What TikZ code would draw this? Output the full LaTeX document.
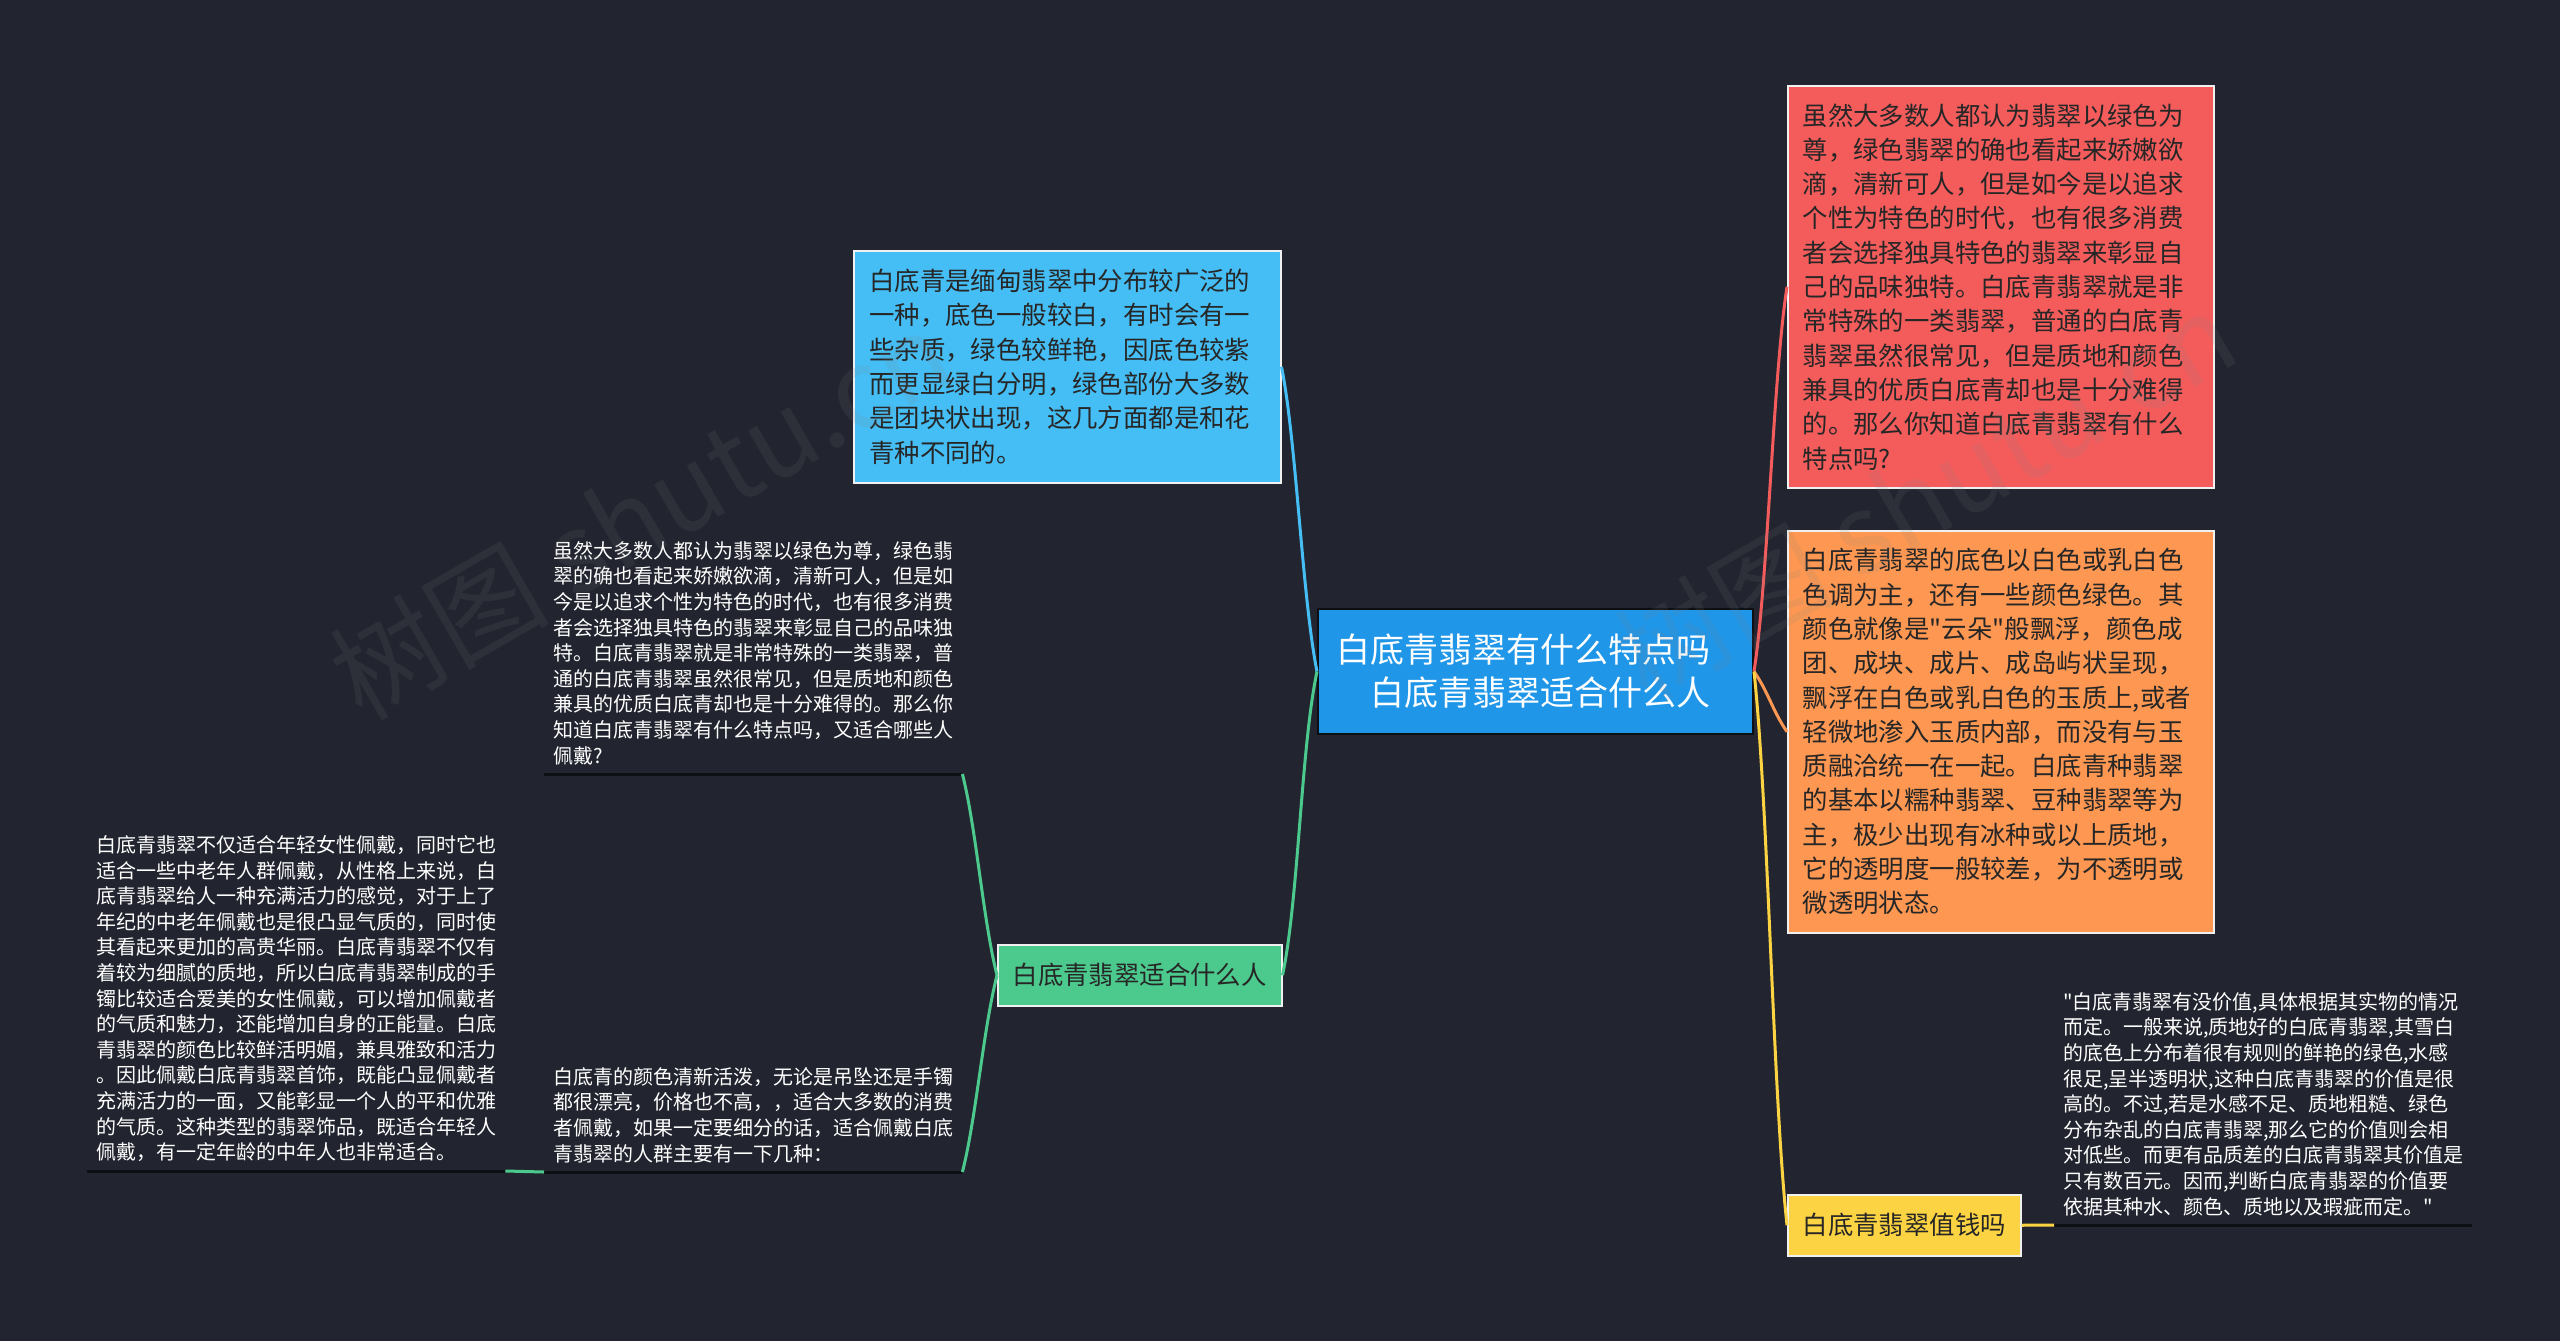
\documentclass[tikz,border=0pt]{standalone}
\usepackage{fontspec}
\setmainfont{Noto Sans CJK SC}[Ligatures=TeXOff]
\usepackage{xcolor}
\usepackage{tikz}
\definecolor{jadenight}{RGB}{34,37,47}
\definecolor{jadecentre}{RGB}{31,150,232}
\definecolor{jadesky}{RGB}{69,190,245}
\definecolor{jadered}{RGB}{244,92,92}
\definecolor{jadeorange}{RGB}{253,151,82}
\definecolor{jadegreen}{RGB}{76,201,141}
\definecolor{jadeyellow}{RGB}{252,211,66}
\definecolor{jadeink}{RGB}{38,38,38}
\definecolor{jadeline}{RGB}{14,15,19}
\definecolor{jadewater}{RGB}{128,128,128}
\tikzset{
  topicbox/.style={draw=white!88!gray,line width=1.5pt,anchor=north west,align=left,
    text=jadeink,inner xsep=15pt,font=\fontsize{25.4}{34.3}\selectfont},
  notetext/.style={anchor=south west,align=left,text=white,text width=400pt,
    inner xsep=9pt,inner ysep=9pt,font=\fontsize{20}{25.6}\selectfont},
  noteline/.style={jadeline,line width=3pt},
  branchline/.style={line width=3pt},
  watermark/.style={rotate=30,text=jadewater,opacity=0.12,font=\fontsize{110}{110}\selectfont}
}

\begin{document}
\begin{tikzpicture}[x=1pt,y=-1pt]
\useasboundingbox (0,0) rectangle (2560,1341);
\fill[jadenight] (0,0) rectangle (2560,1341);
% Sujet central
\node[draw=jadeline,fill=jadecentre,line width=2pt,anchor=north west,align=left,text=white,
  minimum width=435pt,minimum height=125pt,font=\fontsize{34}{43}\selectfont] (centre) at (1317,608)
  {白底青翡翠有什么特点吗\hspace*{24pt}\\\hspace*{34pt}白底青翡翠适合什么人};
% Branches principales
\node[topicbox,fill=jadesky,text width=396pt,minimum width=427pt,minimum height=232pt] (origine) at (853,250)
  {白底青是缅甸翡翠中分布较广泛的\\一种，底色一般较白，有时会有一\\些杂质，绿色较鲜艳，因底色较紫\\而更显绿白分明，绿色部份大多数\\是团块状出现，这几方面都是和花\\青种不同的。};
\node[topicbox,fill=jadered,text width=396pt,minimum width=426pt,minimum height=402pt] (apercu) at (1787,85)
  {虽然大多数人都认为翡翠以绿色为\\尊，绿色翡翠的确也看起来娇嫩欲\\滴，清新可人，但是如今是以追求\\个性为特色的时代，也有很多消费\\者会选择独具特色的翡翠来彰显自\\己的品味独特。白底青翡翠就是非\\常特殊的一类翡翠，普通的白底青\\翡翠虽然很常见，但是质地和颜色\\兼具的优质白底青却也是十分难得\\的。那么你知道白底青翡翠有什么\\特点吗?};
\node[topicbox,fill=jadeorange,text width=396pt,minimum width=426pt,minimum height=402pt] (couleur) at (1787,530)
  {白底青翡翠的底色以白色或乳白色\\色调为主，还有一些颜色绿色。其\\颜色就像是"云朵"般飘浮，颜色成\\团、成块、成片、成岛屿状呈现，\\飘浮在白色或乳白色的玉质上,或者\\轻微地渗入玉质内部，而没有与玉\\质融洽统一在一起。白底青种翡翠\\的基本以糯种翡翠、豆种翡翠等为\\主，极少出现有冰种或以上质地，\\它的透明度一般较差，为不透明或\\微透明状态。};
\node[topicbox,fill=jadegreen,minimum width=281pt,minimum height=61pt] (porteurs) at (997,944) {白底青翡翠适合什么人};
\node[topicbox,fill=jadeyellow,minimum width=232pt,minimum height=61pt] (valeur) at (1787,1194) {白底青翡翠值钱吗};
% Notes
\node[notetext] (question) at (544,774)
  {虽然大多数人都认为翡翠以绿色为尊，绿色翡\\翠的确也看起来娇嫩欲滴，清新可人，但是如\\今是以追求个性为特色的时代，也有很多消费\\者会选择独具特色的翡翠来彰显自己的品味独\\特。白底青翡翠就是非常特殊的一类翡翠，普\\通的白底青翡翠虽然很常见，但是质地和颜色\\兼具的优质白底青却也是十分难得的。那么你\\知道白底青翡翠有什么特点吗，又适合哪些人\\佩戴?};
\node[notetext] (ages) at (87,1171)
  {白底青翡翠不仅适合年轻女性佩戴，同时它也\\适合一些中老年人群佩戴，从性格上来说，白\\底青翡翠给人一种充满活力的感觉，对于上了\\年纪的中老年佩戴也是很凸显气质的，同时使\\其看起来更加的高贵华丽。白底青翡翠不仅有\\着较为细腻的质地，所以白底青翡翠制成的手\\镯比较适合爱美的女性佩戴，可以增加佩戴者\\的气质和魅力，还能增加自身的正能量。白底\\青翡翠的颜色比较鲜活明媚，兼具雅致和活力\\。因此佩戴白底青翡翠首饰，既能凸显佩戴者\\充满活力的一面，又能彰显一个人的平和优雅\\的气质。这种类型的翡翠饰品，既适合年轻人\\佩戴，有一定年龄的中年人也非常适合。};
\node[notetext] (foule) at (544,1172)
  {白底青的颜色清新活泼，无论是吊坠还是手镯\\都很漂亮，价格也不高，，适合大多数的消费\\者佩戴，如果一定要细分的话，适合佩戴白底\\青翡翠的人群主要有一下几种：};
\node[notetext] (prix) at (2054,1225)
  {"白底青翡翠有没价值,具体根据其实物的情况\\而定。一般来说,质地好的白底青翡翠,其雪白\\的底色上分布着很有规则的鲜艳的绿色,水感\\很足,呈半透明状,这种白底青翡翠的价值是很\\高的。不过,若是水感不足、质地粗糙、绿色\\分布杂乱的白底青翡翠,那么它的价值则会相\\对低些。而更有品质差的白底青翡翠其价值是\\只有数百元。因而,判断白底青翡翠的价值要\\依据其种水、颜色、质地以及瑕疵而定。"};
\foreach \n in {question,ages,foule,prix}
  \draw[noteline] (\n.south west) -- (\n.south east);
% Liens
\draw[branchline,jadesky] (centre.west) .. controls +(-15,-75) and +(15,75) .. (origine.east);
\draw[branchline,jadegreen] (centre.west) .. controls +(-16,75) and +(16,-75) .. (porteurs.east);
\draw[branchline,jadered] (centre.east) .. controls +(14,-90) and +(-14,90) .. (apercu.west);
\draw[branchline,jadeorange] (centre.east) .. controls +(14,20) and +(-14,-20) .. (couleur.west);
\draw[branchline,jadeyellow] (centre.east) .. controls +(14,130) and +(-14,-130) .. (valeur.west);
\draw[branchline,jadegreen] (porteurs.west) .. controls +(-14,-55) and +(14,55) .. (question.south east);
\draw[branchline,jadegreen] (porteurs.west) .. controls +(-14,55) and +(14,-55) .. (foule.south east);
\draw[branchline,jadegreen] (foule.south west) -- (ages.south east);
\draw[branchline,jadeyellow] (valeur.east) -- (prix.south west);
% Filigrane
\node[watermark] (marque) at (640,514) {树图 shutu.cn};
\node[watermark] (marquebis) at (1925,495) {树图 shutu.cn};
\end{tikzpicture}
\end{document}
